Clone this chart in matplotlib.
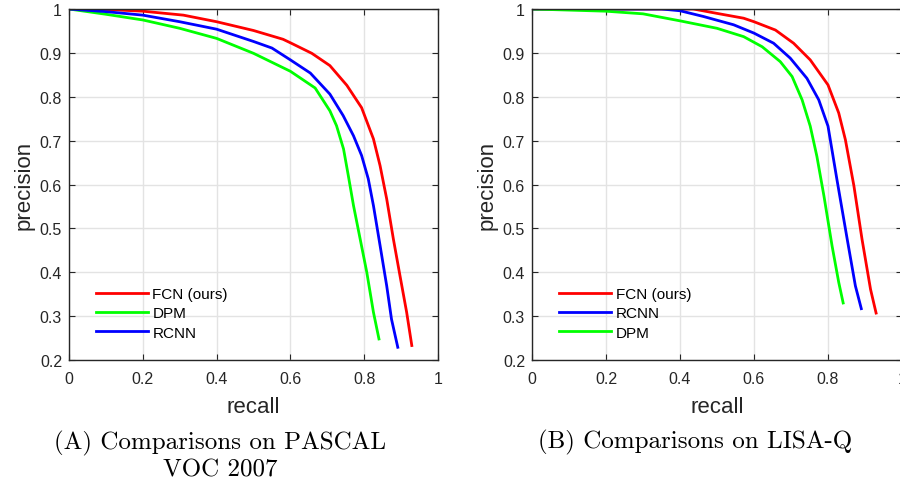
import matplotlib
matplotlib.use("Agg")
import matplotlib.pyplot as plt

# PASCAL VOC 2007 (left)
voc_fcn_r = [0, 0.1, 0.2, 0.31, 0.4, 0.5, 0.58, 0.6, 0.658, 0.707, 0.753, 0.793, 0.825, 0.843, 0.861, 0.879, 0.897, 0.915, 0.929]
voc_fcn_p = [1.0, 0.999, 0.995, 0.986, 0.971, 0.951, 0.931, 0.923, 0.899, 0.871, 0.826, 0.775, 0.704, 0.643, 0.567, 0.476, 0.392, 0.309, 0.233]
voc_dpm_r = [0, 0.1, 0.2, 0.3, 0.4, 0.5, 0.6, 0.667, 0.707, 0.725, 0.744, 0.757, 0.771, 0.789, 0.807, 0.825, 0.840]
voc_dpm_p = [1.0, 0.988, 0.975, 0.956, 0.933, 0.899, 0.858, 0.820, 0.768, 0.734, 0.681, 0.620, 0.552, 0.476, 0.400, 0.309, 0.248]
voc_rcnn_r = [0, 0.1, 0.2, 0.3, 0.4, 0.5, 0.55, 0.6, 0.654, 0.707, 0.743, 0.771, 0.793, 0.811, 0.825, 0.843, 0.861, 0.874, 0.891]
voc_rcnn_p = [1.0, 0.994, 0.986, 0.971, 0.954, 0.926, 0.911, 0.884, 0.854, 0.806, 0.757, 0.711, 0.666, 0.613, 0.552, 0.461, 0.369, 0.293, 0.229]

# LISA-Q (right)
lisa_fcn_r = [0, 0.2, 0.436, 0.5, 0.572, 0.6, 0.658, 0.707, 0.752, 0.8, 0.829, 0.847, 0.87, 0.892, 0.915, 0.93]
lisa_fcn_p = [1.0, 1.0, 1.0, 0.990, 0.979, 0.971, 0.952, 0.922, 0.884, 0.827, 0.763, 0.702, 0.597, 0.475, 0.361, 0.307]
lisa_rcnn_r = [0, 0.2, 0.35, 0.4, 0.463, 0.545, 0.6, 0.653, 0.698, 0.743, 0.775, 0.8, 0.824, 0.852, 0.874, 0.89]
lisa_rcnn_p = [1.0, 1.0, 1.0, 0.996, 0.983, 0.964, 0.945, 0.922, 0.888, 0.842, 0.793, 0.733, 0.612, 0.475, 0.369, 0.317]
lisa_dpm_r = [0, 0.2, 0.3, 0.4, 0.5, 0.572, 0.622, 0.671, 0.703, 0.73, 0.752, 0.77, 0.789, 0.811, 0.829, 0.841]
lisa_dpm_p = [1.0, 0.995, 0.989, 0.973, 0.956, 0.937, 0.914, 0.880, 0.846, 0.793, 0.733, 0.664, 0.574, 0.460, 0.377, 0.330]

xticks = [0, 0.2, 0.4, 0.6, 0.8, 1]
xticklabels = ["0", "0.2", "0.4", "0.6", "0.8", "1"]
yticks = [0.2, 0.3, 0.4, 0.5, 0.6, 0.7, 0.8, 0.9, 1]
yticklabels = ["0.2", "0.3", "0.4", "0.5", "0.6", "0.7", "0.8", "0.9", "1"]

plt.rcParams["font.family"] = ["Liberation Sans", "DejaVu Sans"]

fig = plt.figure(figsize=(9, 4.81), dpi=100)
W, H = 900, 481
ax1 = fig.add_axes([69 / W, 120 / H, 369 / W, 351 / H])
ax2 = fig.add_axes([532 / W, 120 / H, 370 / W, 351 / H])


def style(ax):
    ax.set_xlim(0, 1)
    ax.set_ylim(0.2, 1)
    ax.set_xticks(xticks)
    ax.set_xticklabels(xticklabels)
    ax.set_yticks(yticks)
    ax.set_yticklabels(yticklabels)
    ax.grid(True, color="#e3e3e3", linewidth=1.0)
    ax.set_axisbelow(True)
    ax.tick_params(direction="in", top=True, right=True, length=4,
                   labelsize=11.5, colors="#262626")
    ax.tick_params(axis="x", pad=8)
    ax.tick_params(axis="y", pad=5)
    for s in ax.spines.values():
        s.set_color("#262626")
        s.set_linewidth(1.0)
    ax.set_xlabel("recall", fontsize=16, color="#262626", labelpad=7)
    ax.set_ylabel("precision", fontsize=16, color="#262626", labelpad=4)


ax1.plot(voc_fcn_r, voc_fcn_p, color="#ff0000", lw=2, label="FCN (ours)")
ax1.plot(voc_dpm_r, voc_dpm_p, color="#00ff00", lw=2, label="DPM")
ax1.plot(voc_rcnn_r, voc_rcnn_p, color="#0000ff", lw=2, label="RCNN")

ax2.plot(lisa_fcn_r, lisa_fcn_p, color="#ff0000", lw=2, label="FCN (ours)")
ax2.plot(lisa_rcnn_r, lisa_rcnn_p, color="#0000ff", lw=2, label="RCNN")
ax2.plot(lisa_dpm_r, lisa_dpm_p, color="#00ff00", lw=2, label="DPM")

for ax in (ax1, ax2):
    style(ax)
    ax.legend(loc="upper left", bbox_to_anchor=(0.073, 0.208), frameon=False,
              fontsize=11, handlelength=3.4, handletextpad=0.3,
              labelspacing=0.35, borderpad=0, borderaxespad=0)

fig.text(220 / W, 1 - 449 / H, "(A) Comparisons on PASCAL",
         ha="center", va="baseline", family="cmr10", fontsize=18)
fig.text(220 / W, 1 - 477 / H, "VOC 2007",
         ha="center", va="baseline", family="cmr10", fontsize=18)
fig.text(695 / W, 1 - 448 / H, "(B) Comparisons on LISA-Q",
         ha="center", va="baseline", family="cmr10", fontsize=18)

fig.savefig("out.png", dpi=100)
